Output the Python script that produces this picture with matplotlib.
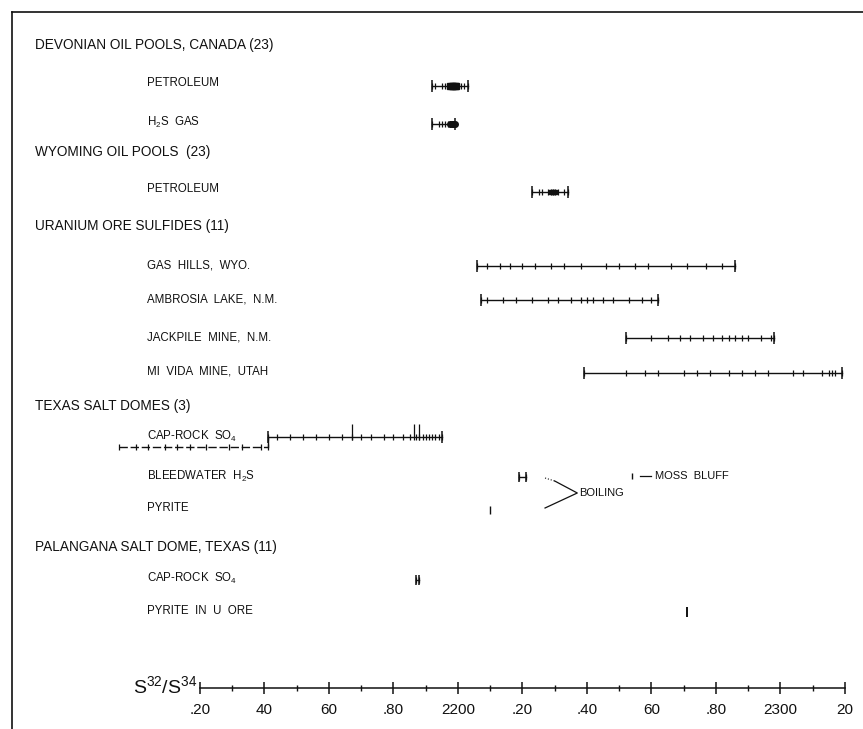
import numpy as np
import matplotlib.pyplot as plt

plt.rcParams['font.family'] = ['Liberation Sans', 'DejaVu Sans']

# S32/S34 ratios
devonian_petroleum = [21.92, 21.93, 21.95, 21.96, 21.97, 21.975, 21.98, 21.985, 21.99, 21.995, 22.0, 22.01, 22.02, 22.03]
devonian_h2s = [21.92, 21.94, 21.95, 21.96, 21.97, 21.975, 21.98, 21.985, 21.99]
wyoming_petroleum = [22.23, 22.25, 22.26, 22.28, 22.29, 22.295, 22.30, 22.31, 22.33, 22.34]
gas_hills = [22.06, 22.09, 22.13, 22.16, 22.20, 22.24, 22.29, 22.33, 22.38, 22.46, 22.50,
             22.55, 22.59, 22.66, 22.71, 22.77, 22.82, 22.86]
ambrosia_lake = [22.07, 22.09, 22.14, 22.18, 22.23, 22.28, 22.31, 22.35, 22.38, 22.40, 22.42,
                 22.45, 22.48, 22.53, 22.57, 22.60, 22.62]
jackpile = [22.52, 22.60, 22.65, 22.69, 22.72, 22.76, 22.79, 22.82, 22.84, 22.86, 22.88,
            22.90, 22.94, 22.97, 22.98]
mi_vida = [22.39, 22.52, 22.58, 22.62, 22.70, 22.74, 22.78, 22.84, 22.88, 22.92, 22.96,
           23.04, 23.07, 23.13, 23.15, 23.16, 23.17, 23.19]
texas_caprock = [20.95, 21.00, 21.04, 21.09, 21.13, 21.17, 21.22, 21.29, 21.33, 21.39, 21.41,
                 21.44, 21.48, 21.52, 21.56, 21.60, 21.64, 21.67, 21.70, 21.73, 21.77, 21.80,
                 21.83, 21.85, 21.87, 21.88, 21.89, 21.90, 21.91, 21.92, 21.93, 21.94, 21.95]
texas_caprock_tall = [21.67, 21.865, 21.88]
bleedwater_boiling = [22.19, 22.21]
bleedwater_moss_bluff = [22.54]
texas_pyrite = [22.10]
palangana_caprock = [21.87, 21.88]
palangana_pyrite = [22.71]

tick_values = [21.2, 21.4, 21.6, 21.8, 22.0, 22.2, 22.4, 22.6, 22.8, 23.0, 23.2]
tick_labels = ['.20', '40', '60', '.80', '2200', '.20', '.40', '60', '.80', '2300', '20']

# row layout (pixels from top), label indents in axes fraction
groups = [('DEVONIAN OIL POOLS, CANADA (23)', 45),
          ('WYOMING OIL POOLS  (23)', 152),
          ('URANIUM ORE SULFIDES (11)', 226),
          ('TEXAS SALT DOMES (3)', 406),
          ('PALANGANA SALT DOME, TEXAS (11)', 547)]
subs = [('PETROLEUM', 83), (r'H$\mathregular{_2}$S  GAS', 122), ('PETROLEUM', 189),
        ('GAS  HILLS,  WYO.', 266), ('AMBROSIA  LAKE,  N.M.', 300), ('JACKPILE  MINE,  N.M.', 337),
        ('MI  VIDA  MINE,  UTAH', 372), (r'CAP-ROCK  SO$\mathregular{_4}$', 436),
        (r'BLEEDWATER  H$\mathregular{_2}$S', 476), ('PYRITE', 508),
        (r'CAP-ROCK  SO$\mathregular{_4}$', 578), ('PYRITE  IN  U  ORE', 611)]

ink = '#111111'

fig = plt.figure(figsize=(8.63, 7.29), dpi=100)
ax = fig.add_axes([12 / 863, 0, 851 / 863, 717 / 729])
ax.set_xlim(20.617, 23.256)
ax.set_ylim(729, 12)


def draw_range(vals, y, cap=8, tick=4):
    lo, hi = min(vals), max(vals)
    ax.plot([lo, hi], [y, y], color=ink, lw=1.0)
    ax.plot([lo, hi], [y, y], '|', color=ink, ms=cap, mew=1.1)
    ax.plot(vals, [y] * len(vals), '|', color=ink, ms=tick, mew=0.9)


draw_range(devonian_petroleum, 86)
ax.plot(devonian_petroleum[5:10], [86] * 5, 's', color=ink, ms=4)
draw_range(devonian_h2s, 124)
ax.plot(devonian_h2s[5:9], [124] * 4, 'o', color=ink, ms=4)
draw_range(wyoming_petroleum, 192)
ax.plot(wyoming_petroleum[4:7], [192] * 3, 's', color=ink, ms=3.5)
draw_range(gas_hills, 266)
draw_range(ambrosia_lake, 300)
draw_range(jackpile, 338)
draw_range(mi_vida, 373)

# Texas cap-rock: lower part continues off the scale on a second line
split = 21.41
upper = [v for v in texas_caprock if v >= split]
lower = [v for v in texas_caprock if v <= split]
draw_range(upper, 437)
ax.plot([min(lower), split], [447, 447], color=ink, lw=1.0, ls=(0, (6, 2)))
ax.plot(lower, [447] * len(lower), '|', color=ink, ms=4, mew=0.9)
ax.plot([split, split], [447, 437], color=ink, lw=1.0)
ax.plot(texas_caprock_tall, [432] * len(texas_caprock_tall), '|', color=ink, ms=11, mew=0.9)

draw_range(bleedwater_boiling, 477, cap=7, tick=4)
ax.plot(bleedwater_moss_bluff, [476], '|', color=ink, ms=4, mew=1.0)
ax.plot(texas_pyrite, [510], '|', color=ink, ms=6, mew=1.0)
draw_range(palangana_caprock, 580, cap=7, tick=5)
ax.plot(palangana_pyrite, [612], '|', color=ink, ms=7, mew=1.4)

# boiling bracket and Moss Bluff note
ax.plot([22.27, 22.30], [478, 481], color=ink, lw=0.8, ls=':')
ax.plot([22.30, 22.37, 22.27], [481, 493, 508], color=ink, lw=0.9)
ax.text(22.375, 493, 'BOILING', fontsize=8, va='center', color=ink)
ax.plot([22.565, 22.60], [476, 476], color=ink, lw=0.9)
ax.text(22.61, 476, 'MOSS  BLUFF', fontsize=8, va='center', color=ink)

for text, y in groups:
    ax.text(0.027, y, text, transform=ax.get_yaxis_transform(), fontsize=9.8,
            va='center', color=ink)
for text, y in subs:
    ax.text(0.159, y, text, transform=ax.get_yaxis_transform(), fontsize=8.3,
            va='center', color=ink)

# frame and S32/S34 scale
ax.spines['right'].set_visible(False)
for side in ['top', 'left']:
    ax.spines[side].set_linewidth(1.2)
    ax.spines[side].set_color(ink)
ax.spines['bottom'].set_position(('data', 688))
ax.spines['bottom'].set_bounds(tick_values[0], tick_values[-1])
ax.spines['bottom'].set_linewidth(1.1)
ax.spines['bottom'].set_color(ink)
ax.set_xticks(tick_values)
ax.set_xticklabels(tick_labels)
ax.set_xticks(np.arange(21.3, 23.2, 0.2), minor=True)
ax.tick_params(axis='x', which='major', direction='inout', length=9, width=1.1,
               labelsize=11, pad=6, colors=ink)
ax.tick_params(axis='x', which='minor', direction='inout', length=4, width=1.0, colors=ink)
ax.set_yticks([])
ax.text(21.19, 686, r'$\mathregular{S^{32}/S^{34}}$', fontsize=14, ha='right',
        va='center', color=ink)

fig.savefig('out.png', dpi=100)
